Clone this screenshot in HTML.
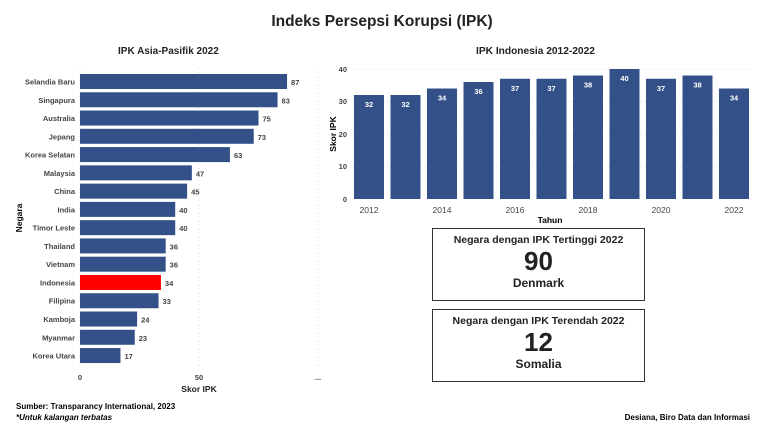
<!DOCTYPE html><html><head><style>
body{margin:0;width:764px;height:435px;background:#fff;font-family:"Liberation Sans",sans-serif;position:relative;overflow:hidden;color:#222}
.a{position:absolute;white-space:nowrap}
.box{position:absolute;left:432px;width:211px;height:71px;border:1px solid #333;text-align:center;font-weight:bold}
</style></head><body>
<div class="a" style="left:0;width:764px;top:13px;text-align:center;font-size:15.5px;font-weight:bold">Indeks Persepsi Korupsi (IPK)</div>
<div class="a" style="left:118px;top:46px;font-size:10px;font-weight:bold">IPK Asia-Pasifik 2022</div>
<div class="a" style="left:476px;top:46px;font-size:10.2px;font-weight:bold">IPK Indonesia 2012-2022</div>
<svg class="a" style="left:0;top:0" width="764" height="435" font-family="Liberation Sans" font-weight="bold">
<g stroke="#ddd" stroke-dasharray="1,3"><line x1="80" y1="68" x2="80" y2="368"/><line x1="199" y1="68" x2="199" y2="368"/><line x1="318" y1="68" x2="318" y2="368"/></g>
<g id="L"></g>
<text x="80" y="380" font-size="7.5" fill="#444" text-anchor="middle">0</text>
<text x="199" y="380" font-size="7.5" fill="#444" text-anchor="middle">50</text>
<text x="318" y="380" font-size="7.5" fill="#444" text-anchor="middle">...</text>
<text x="199" y="392" font-size="8.5" fill="#222" text-anchor="middle">Skor IPK</text>
<text transform="translate(22,218) rotate(-90)" font-size="8.5" text-anchor="middle">Negara</text>
<g stroke="#ddd" stroke-dasharray="1,3"><line x1="352" y1="69" x2="752" y2="69"/><line x1="352" y1="101.5" x2="752" y2="101.5"/><line x1="352" y1="134" x2="752" y2="134"/><line x1="352" y1="166.5" x2="752" y2="166.5"/></g>
<g font-size="7.5" fill="#444" text-anchor="end"><text x="347" y="72">40</text><text x="347" y="104">30</text><text x="347" y="137">20</text><text x="347" y="169">10</text><text x="347" y="202">0</text></g>
<g id="R"></g>
<g font-size="8.5" fill="#444" font-weight="normal" text-anchor="middle"><text x="369" y="213">2012</text><text x="442" y="213">2014</text><text x="515" y="213">2016</text><text x="588" y="213">2018</text><text x="661" y="213">2020</text><text x="734" y="213">2022</text></g>
<text x="550" y="223" font-size="8.5" text-anchor="middle">Tahun</text>
<text transform="translate(336,134) rotate(-90)" font-size="8.5" text-anchor="middle">Skor IPK</text>
<text x="16" y="409" font-size="8">Sumber: Transparancy International, 2023</text>
<text x="16" y="420" font-size="8" font-style="italic">*Untuk kalangan terbatas</text>
<text x="750" y="420" font-size="8" text-anchor="end">Desiana, Biro Data dan Informasi</text>
</svg>
<div class="box" style="top:228px"><div style="font-size:10.5px;margin-top:5px">Negara dengan IPK Tertinggi 2022</div><div style="font-size:26px;line-height:30px">90</div><div style="font-size:12px">Denmark</div></div>
<div class="box" style="top:309px"><div style="font-size:10.5px;margin-top:5px">Negara dengan IPK Terendah 2022</div><div style="font-size:26px;line-height:30px">12</div><div style="font-size:12px">Somalia</div></div>
<script>
var ns="http://www.w3.org/2000/svg";
function el(p,t,a,tx){var e=document.createElementNS(ns,t);for(var k in a)e.setAttribute(k,a[k]);if(tx!=null)e.textContent=tx;p.appendChild(e);}
var L=document.getElementById("L");
var d=[["Selandia Baru",87],["Singapura",83],["Australia",75],["Jepang",73],["Korea Selatan",63],["Malaysia",47],["China",45],["India",40],["Timor Leste",40],["Thailand",36],["Vietnam",36],["Indonesia",34],["Filipina",33],["Kamboja",24],["Myanmar",23],["Korea Utara",17]];
d.forEach(function(r,i){var y=74+i*18.27,w=r[1]*2.38;
el(L,"rect",{x:80,y:y,width:w,height:15,fill:r[0]=="Indonesia"?"#ff0000":"#335188"});
el(L,"text",{x:75,y:y+10.5,"font-size":7.5,fill:"#444","text-anchor":"end"},r[0]);
el(L,"text",{x:84+w,y:y+11,"font-size":7.5,fill:"#444"},r[1]);});
var R=document.getElementById("R");
[32,32,34,36,37,37,38,40,37,38,34].forEach(function(v,i){var x=354+i*36.5,h=v*3.25;
el(R,"rect",{x:x,y:199-h,width:30,height:h,fill:"#335188"});
el(R,"text",{x:x+15,y:199-h+12,"font-size":7.5,fill:"#fff","text-anchor":"middle"},v);});
</script>
</body></html>
